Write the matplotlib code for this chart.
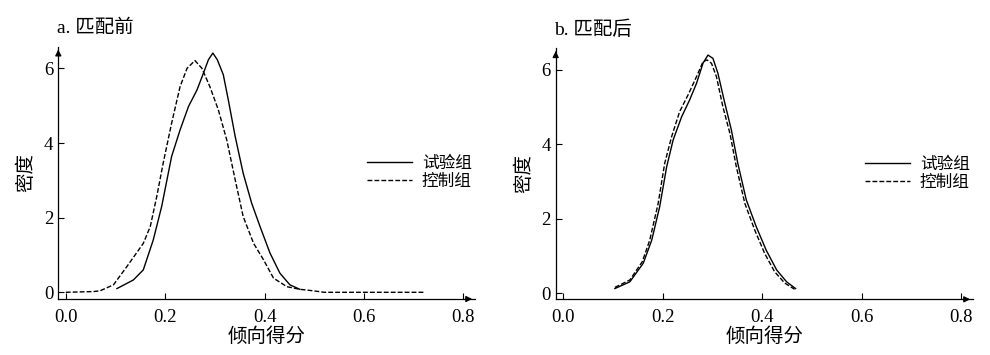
import matplotlib
matplotlib.use("Agg")
import matplotlib.pyplot as plt
import numpy as np

plt.rcParams['font.family'] = ['Liberation Serif', 'Noto Sans CJK SC']

# a. 匹配前 (before matching)
before_treat_x = [0.103, 0.136, 0.156, 0.176, 0.193, 0.213, 0.230, 0.247, 0.264, 0.277,
                  0.287, 0.296, 0.305, 0.317, 0.327, 0.341, 0.357, 0.374, 0.391, 0.411,
                  0.431, 0.451, 0.471]
before_treat_y = [0.10, 0.33, 0.60, 1.40, 2.30, 3.64, 4.35, 4.98, 5.42, 5.87,
                  6.23, 6.41, 6.23, 5.83, 5.16, 4.17, 3.19, 2.39, 1.76, 1.05,
                  0.51, 0.20, 0.08]
before_ctrl_x = [0.0, 0.056, 0.069, 0.096, 0.123, 0.156, 0.170, 0.183, 0.196, 0.213,
                 0.230, 0.244, 0.260, 0.274, 0.290, 0.307, 0.324, 0.341, 0.357, 0.378,
                 0.398, 0.418, 0.445, 0.471, 0.498, 0.520, 0.723]
before_ctrl_y = [0.0, 0.02, 0.04, 0.20, 0.69, 1.31, 1.76, 2.56, 3.46, 4.53,
                 5.51, 6.00, 6.21, 6.00, 5.51, 4.89, 4.08, 3.01, 2.03, 1.31,
                 0.87, 0.38, 0.15, 0.08, 0.04, 0.0, 0.0]

# b. 匹配后 (after matching)
after_treat_x = [0.104, 0.134, 0.161, 0.178, 0.194, 0.208, 0.221, 0.238, 0.254, 0.268,
                 0.281, 0.291, 0.301, 0.311, 0.325, 0.338, 0.351, 0.368, 0.388, 0.408,
                 0.429, 0.449, 0.467]
after_treat_y = [0.13, 0.31, 0.81, 1.43, 2.33, 3.40, 4.12, 4.74, 5.19, 5.64,
                 6.18, 6.40, 6.31, 5.91, 5.10, 4.39, 3.49, 2.51, 1.79, 1.16,
                 0.63, 0.31, 0.13]
after_ctrl_x = [0.104, 0.134, 0.159, 0.174, 0.191, 0.204, 0.218, 0.234, 0.251, 0.268,
                0.281, 0.289, 0.298, 0.308, 0.321, 0.335, 0.348, 0.365, 0.385, 0.405,
                0.425, 0.445, 0.465]
after_ctrl_y = [0.16, 0.36, 0.85, 1.43, 2.42, 3.49, 4.21, 4.88, 5.33, 5.82,
                6.22, 6.27, 6.18, 5.82, 5.01, 4.30, 3.40, 2.42, 1.70, 1.07,
                0.58, 0.28, 0.11]

titles = ["a. 匹配前", "b. 匹配后"]
labels = ["试验组", "控制组"]
xticks = [0.0, 0.2, 0.4, 0.6, 0.8]
yticks = [0, 2, 4, 6]

fig = plt.figure(figsize=(9.9, 3.55), dpi=100)
ax1 = fig.add_axes([0.0589, 0.1577, 0.4209, 0.7107])
ax2 = fig.add_axes([0.5613, 0.1568, 0.4215, 0.7070])

panels = [
    (ax1, before_treat_x, before_treat_y, before_ctrl_x, before_ctrl_y, titles[0], -0.18),
    (ax2, after_treat_x, after_treat_y, after_ctrl_x, after_ctrl_y, titles[1], -0.16),
]

for ax, tx, ty, cx, cy, title, ybot in panels:
    ax.plot(tx, ty, color='black', lw=1.0, label=labels[0])
    ax.plot(cx, cy, color='black', lw=1.0, linestyle=(0, (3.5, 1.5)), label=labels[1])
    ax.set_xlim(-0.015, 0.8235)
    ax.set_ylim(ybot, 6.58)
    ax.set_xticks(xticks)
    ax.set_xticklabels(["0.0", "0.2", "0.4", "0.6", "0.8"])
    ax.set_yticks(yticks)
    ax.tick_params(direction='in', length=4, width=0.8, labelsize=13.5)
    ax.tick_params(axis='x', pad=7)
    ax.tick_params(axis='y', pad=3.5)
    for s in ['top', 'right']:
        ax.spines[s].set_visible(False)
    for s in ['left', 'bottom']:
        ax.spines[s].set_linewidth(0.9)
    # arrow heads at axis ends
    ax.annotate('', xy=(1.0, 0), xytext=(0.97, 0), xycoords='axes fraction',
                arrowprops=dict(arrowstyle='-|>', color='black', lw=0.9,
                                mutation_scale=9), annotation_clip=False)
    ax.annotate('', xy=(0, 1.0), xytext=(0, 0.97), xycoords='axes fraction',
                arrowprops=dict(arrowstyle='-|>', color='black', lw=0.9,
                                mutation_scale=9), annotation_clip=False)
    ax.set_xlabel("倾向得分", fontsize=14, labelpad=1)
    ax.set_ylabel("密度", fontsize=14, labelpad=6)
    ax.text(-0.003, 1.074, title, transform=ax.transAxes, fontsize=14,
            ha='left', va='center')
    ax.legend(loc='center left', bbox_to_anchor=(0.7406, 0.501), frameon=False,
              fontsize=12, handlelength=2.7, handletextpad=0.6, labelspacing=0.12,
              borderpad=0, borderaxespad=0)

fig.savefig("out.png", dpi=100)
